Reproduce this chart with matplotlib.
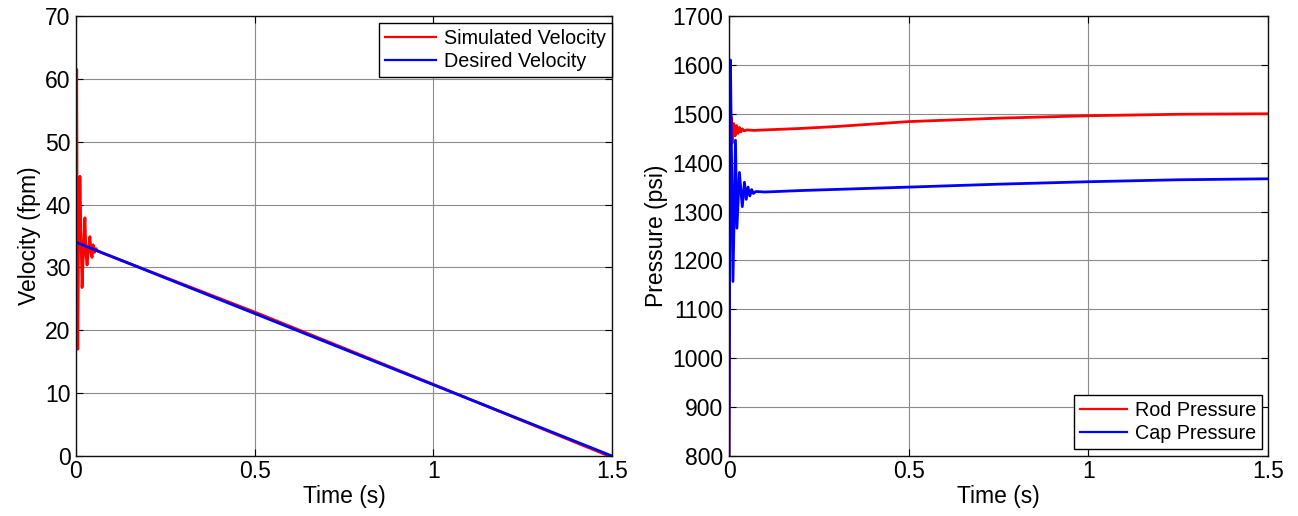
import matplotlib
matplotlib.use("Agg")
import matplotlib.pyplot as plt
from matplotlib.ticker import FixedLocator, FixedFormatter

plt.rcParams['font.family'] = ['Liberation Sans', 'DejaVu Sans']

# ---- data ----
vel_sim_t = [0, 0.001, 0.002, 0.0035, 0.005, 0.007, 0.009, 0.011, 0.014, 0.017, 0.021, 0.025,
             0.028, 0.031, 0.035, 0.039, 0.042, 0.045, 0.048, 0.052, 0.056, 0.06, 0.5, 1.0, 1.5]
vel_sim_v = [34, 50, 61.5, 30, 17, 33, 36, 44.5, 35, 26.8, 33, 37.9,
             32, 30.4, 33, 34.9, 32.3, 31.6, 33.6, 32.4, 33.0, 32.6, 22.9, 11.4, -0.2]
vel_des_t = [0, 1.5]
vel_des_v = [34, 0]

rod_t = [0, 0.002, 0.006, 0.009, 0.013, 0.017, 0.021, 0.025, 0.029, 0.033, 0.037, 0.042,
         0.05, 0.07, 0.1, 0.2, 0.3, 0.5, 0.75, 1.0, 1.25, 1.5]
rod_p = [800, 1350, 1494, 1440, 1480, 1455, 1476, 1460, 1472, 1463, 1469, 1465,
         1467, 1466, 1467, 1470, 1474, 1484, 1491, 1496, 1499, 1500]

cap_t = [0, 0.002, 0.004, 0.011, 0.018, 0.022, 0.029, 0.037, 0.043, 0.048, 0.053, 0.058,
         0.063, 0.068, 0.075, 0.1, 0.2, 0.5, 0.75, 1.0, 1.25, 1.5]
cap_p = [800, 1250, 1610, 1157, 1446, 1266, 1380, 1310, 1360, 1325, 1350, 1332,
         1345, 1337, 1341, 1340, 1343, 1350, 1356, 1361, 1365, 1367]

x_ticks = [0, 0.5, 1, 1.5]
x_labels = ['0', '0.5', '1', '1.5']
vel_ticks = [0, 10, 20, 30, 40, 50, 60, 70]
p_ticks = [800, 900, 1000, 1100, 1200, 1300, 1400, 1500, 1600, 1700]

fig = plt.figure(figsize=(12.98, 5.16), dpi=100)
ax1 = fig.add_axes([76/1298, 1-456/516, 536/1298, 440/516])
ax2 = fig.add_axes([729/1298, 1-456/516, 539/1298, 440/516])

ax1.plot(vel_sim_t, vel_sim_v, color='#ff0000', lw=2.0, label='Simulated Velocity')
ax1.plot(vel_des_t, vel_des_v, color='#0000ff', lw=2.0, label='Desired Velocity')
ax1.set_ylim(0, 70)
ax1.set_yticks(vel_ticks)
ax1.set_ylabel('Velocity (fpm)', fontsize=16.5, labelpad=3)

ax2.plot(rod_t, rod_p, color='#ff0000', lw=2.0, label='Rod Pressure')
ax2.plot(cap_t, cap_p, color='#0000ff', lw=2.0, label='Cap Pressure')
ax2.set_ylim(800, 1700)
ax2.set_yticks(p_ticks)
ax2.set_ylabel('Pressure (psi)', fontsize=16.5, labelpad=3)

legpos = {ax1: ('upper right', (1.0, 1 - 7/440), 2.6),
          ax2: ('lower right', (1 - 6/539, 7/440), 2.4)}
for ax in (ax1, ax2):
    ax.set_xlim(0, 1.5)
    ax.xaxis.set_major_locator(FixedLocator(x_ticks))
    ax.xaxis.set_major_formatter(FixedFormatter(x_labels))
    ax.set_xlabel('Time (s)', fontsize=16.5, labelpad=1)
    ax.grid(True, color='#8c8c8c', lw=0.8)
    ax.tick_params(direction='in', top=True, right=True, labelsize=16.5, length=5)
    ax.tick_params(axis='y', pad=4)
    ax.tick_params(axis='x', pad=3)
    for s in ax.spines.values():
        s.set_color('#111111')
        s.set_linewidth(1.0)
    loc, anchor, hl = legpos[ax]
    leg = ax.legend(loc=loc, bbox_to_anchor=anchor, fontsize=14.2, fancybox=False,
                    framealpha=1, edgecolor='black', borderaxespad=0.0,
                    handlelength=hl, handletextpad=0.4, borderpad=0.3,
                    labelspacing=0.2)
    leg.get_frame().set_linewidth(1.0)
    for line in leg.get_lines():
        line.set_linewidth(1.6)

fig.savefig('out.png', dpi=100)
